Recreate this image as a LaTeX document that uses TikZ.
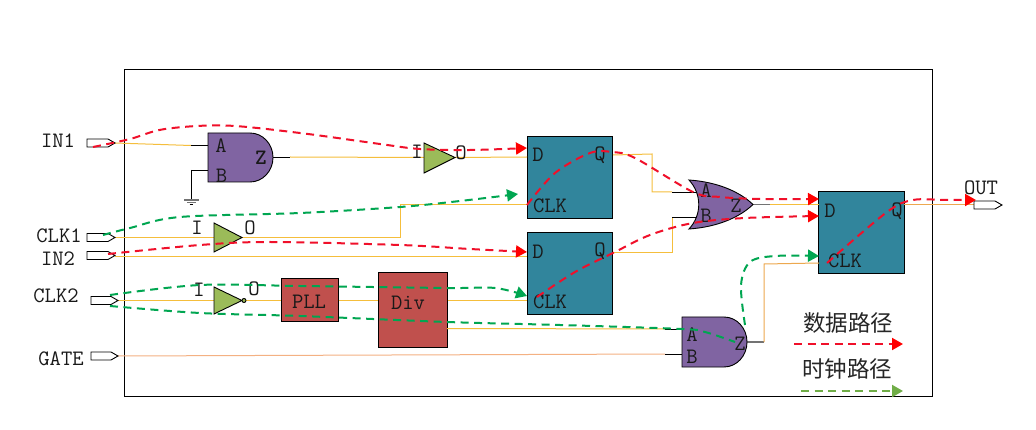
\documentclass[tikz,border=0pt]{standalone}
\usepackage{fontspec}
\usetikzlibrary{arrows.meta}
\newfontfamily\cjkfont{Noto Sans CJK SC}
\newcommand{\labfont}{\ttfamily\addfontfeature{FakeStretch=0.9}}
\definecolor{gatep}{HTML}{8064A2}
\definecolor{ffteal}{HTML}{31859C}
\definecolor{blockr}{HTML}{C0504D}
\definecolor{bufg}{HTML}{9BBB59}
\definecolor{wirey}{HTML}{F5BE3C}
\definecolor{wireo}{HTML}{F4B183}
\definecolor{wirem}{HTML}{EDA84F}
\definecolor{pathr}{HTML}{F0102A}
\definecolor{pathg}{HTML}{00A651}
\definecolor{legg}{HTML}{70AD47}
\tikzset{
  x=1pt,y=-1pt,
  lbl/.style={font=\fontsize{22}{23}\selectfont\labfont,inner sep=0pt,text=black!90},
  ffbox/.style={draw=black,line width=1pt,fill=ffteal,inner sep=0pt,minimum width=85.5pt,minimum height=82pt},
  redblock/.style={draw=black,line width=1pt,fill=blockr,inner sep=0pt},
  gateshape/.style={draw=black,line width=.9pt,fill=gatep},
  bufshape/.style={draw=black,line width=.9pt,fill=bufg},
  pinshape/.style={draw=black,line width=.9pt,fill=white},
  stub/.style={draw=black,line width=.8pt},
  gstub/.style={draw=black!55,line width=1.1pt},
  wirey/.style={draw=wirey,line width=1pt},
  wireo/.style={draw=wireo,line width=1pt},
  wirem/.style={draw=wirem,line width=1pt},
  redpath/.style={draw=pathr,line width=2pt,dash pattern=on 8pt off 5.5pt},
  greenpath/.style={draw=pathg,line width=2pt,dash pattern=on 8pt off 5.5pt},
  redtip/.style={-{Triangle[length=11pt,width=12pt,fill=red,color=red]}},
  greentip/.style={-{Triangle[length=11pt,width=12pt,fill=pathg,color=pathg]}},
  legtip/.style={-{Triangle[length=11pt,width=12pt,fill=legg,color=legg]}},
  smth/.style={smooth,tension=.55},
}
\newcommand{\pinpath}[3]{% x,y centre,length
  \draw[pinshape] (#1,#2-4) -- (#1+#3-7,#2-4) -- (#1+#3,#2) -- (#1+#3-7,#2+4) -- (#1,#2+4) -- cycle;}
\begin{document}
\begin{tikzpicture}
\useasboundingbox (0,0) rectangle (1036,430);
\fill[white] (0,0) rectangle (1036,430);
\draw[black,line width=.9pt] (124,69.5) rectangle (932,396);

% named connection points
\coordinate (in1) at (115,143);
\coordinate (clk1) at (115,237.5);
\coordinate (in2) at (115,257);
\coordinate (clk2) at (118,300.5);
\coordinate (gate) at (118,356);
\coordinate (outp) at (974,204.5);
\coordinate (u1A) at (191,145.5);
\coordinate (u1Ag) at (208,145.5);
\coordinate (u1B) at (191,170);
\coordinate (u1Bg) at (208,170);
\coordinate (u1Zg) at (273,157);
\coordinate (u1Z) at (290,157);
\coordinate (b1i) at (424,157.5);
\coordinate (b1o) at (455,157.5);
\coordinate (b2i) at (214,237.5);
\coordinate (b2o) at (242,237.5);
\coordinate (b3i) at (214,300.5);
\coordinate (b3o) at (246,300.5);
\coordinate (f1D) at (527,157);
\coordinate (f1C) at (527,205);
\coordinate (f1Q) at (613,155);
\coordinate (f2D) at (527,257);
\coordinate (f2C) at (527,300.5);
\coordinate (f2Q) at (613,253);
\coordinate (f3D) at (819,204.5);
\coordinate (f3C) at (819,263);
\coordinate (f3Q) at (904,204.5);
\coordinate (orA) at (672,192);
\coordinate (orB) at (672,217);
\coordinate (orAg) at (697,192);
\coordinate (orBg) at (697,217);
\coordinate (orZg) at (753,204.5);
\coordinate (orZ) at (770,204.5);
\coordinate (u2A) at (665,329);
\coordinate (u2B) at (665,354);
\coordinate (u2Ag) at (682,329);
\coordinate (u2Bg) at (682,354);
\coordinate (u2Zg) at (747,342);
\coordinate (u2Z) at (764,342);
\coordinate (dv2) at (447,328.5);

% function blocks
\node[redblock,minimum width=57pt,minimum height=43pt] (pll) at (309.5,300.5) {};
\node[redblock,minimum width=69pt,minimum height=74pt] (dv) at (412.5,310) {};
\node[ffbox] (ff1) at (570,177.5) {};
\node[ffbox] (ff2) at (570,273.5) {};
\node[ffbox] (ff3) at (861.5,232.5) {};

% wires
\draw[wirey] (in1) -- (u1A);
\draw[stub] (u1A) -- (u1Ag);
\draw[stub] (u1B) -- (u1Bg);
\draw[stub] (u1Zg) -- (u1Z);
\draw[wirey] (u1Z) -- (b1i);
\draw[wirey] (b1o) -- (f1D);
\draw[wirey] (clk1) -- (b2i);
\draw[wirey] (b2o) -- (400,237.5) -- (400,205) -- (f1C);
\draw[wirey] (in2) -- (f2D);
\draw[wirey] (clk2) -- (b3i);
\draw[wirey] (b3o) -- (pll.west);
\draw[wirey] (pll.east) -- (dv.west |- pll.east);
\draw[wirey] (dv.east |- f2C) -- (f2C);
\draw[wirey] (dv2) -- (u2A);
\draw[stub] (u2A) -- (u2Ag);
\draw[wireo] (gate) -- (u2B);
\draw[stub] (u2B) -- (u2Bg);
\draw[gstub] (u2Zg) -- (u2Z);
\draw[wirem] (u2Z) -- (764,264) -- (f3C);
\draw[wirey] (f1Q) -- (652,154) -- (652,192) -- (orA);
\draw[wirey] (f2Q) -- (672,253) -- (orB);
\draw[stub] (orA) -- (orAg);
\draw[stub] (orB) -- (orBg);
\draw[gstub] (orZg) -- (orZ);
\draw[wirey] (orZ) -- (f3D);
\draw[wirem] (f3Q) -- (outp);

% ground
\draw[stub] (u1B) -- (191,199);
\draw[draw=black!55,line width=1.3pt] (184,200) -- (199,200);
\draw[draw=black!55,line width=1.2pt] (187,202.5) -- (196,202.5);
\draw[draw=black,line width=.9pt] (189.5,204.8) -- (193,204.8);

% pins
\pinpath{87}{143}{28}
\pinpath{87}{237.5}{28}
\pinpath{87}{255.5}{28}
\pinpath{91}{300.5}{27}
\pinpath{91}{356}{27}
\pinpath{974}{205}{28}

% gates
\draw[gateshape] (208,133) -- (250,133) arc[start angle=90,end angle=-90,x radius=23,y radius=-24.5] -- (208,182) -- cycle;
\draw[gateshape] (682,317) -- (724,317) arc[start angle=90,end angle=-90,x radius=23,y radius=-25] -- (682,367) -- cycle;
\draw[gateshape] (689,180) .. controls (718,182) and (740,192) .. (753,204.5)
  .. controls (740,217) and (718,227) .. (689,229)
  .. controls (702,215) and (702,194) .. (689,180) -- cycle;

% buffers
\draw[bufshape] (424,143) -- (b1o) -- (424,173) -- cycle;
\draw[bufshape] (214,223) -- (b2o) -- (214,252) -- cycle;
\draw[bufshape] (214,287) -- (242,300.5) -- (214,314) -- cycle;
\draw[draw=black,line width=.9pt,fill=bufg] (244,300.5) circle[radius=2];

% labels
\node[lbl] (tin1) at (58,141) {IN1};
\node[lbl] (tclk1) at (59,236) {CLK1};
\node[lbl] (tin2) at (58,259) {IN2};
\node[lbl] (tclk2) at (56,296) {CLK2};
\node[lbl] (tgate) at (61,359) {GATE};
\node[lbl] (tout) at (981,188) {OUT};
\node[lbl] (u1a) at (221,146) {A};
\node[lbl] (u1b) at (221.5,176) {B};
\node[lbl,font=\fontsize{22}{23}\selectfont\ttfamily\bfseries] (u1z) at (261,158) {Z};
\node[lbl] (bi1) at (417,152) {I};
\node[lbl] (bo1) at (461,153) {O};
\node[lbl] (bi2) at (197,228) {I};
\node[lbl] (bo2) at (250,228) {O};
\node[lbl] (bi3) at (199,290) {I};
\node[lbl] (bo3) at (254,289) {O};
\node[lbl] (tpll) at (309,302) {PLL};
\node[lbl] (tdiv) at (408,303) {Div};
\node[lbl] (t1d) at (538,155) {D};
\node[lbl] (t1q) at (600,155) {Q};
\node[lbl] (t1c) at (550,206) {CLK};
\node[lbl] (t2d) at (538,252) {D};
\node[lbl] (t2q) at (600,251) {Q};
\node[lbl] (t2c) at (550,302) {CLK};
\node[lbl] (t3d) at (830,211) {D};
\node[lbl] (t3q) at (897,211) {Q};
\node[lbl] (t3c) at (845,261) {CLK};
\node[lbl] (toa) at (706,191) {A};
\node[lbl] (tob) at (706,216) {B};
\node[lbl] (toz) at (736,206) {Z};
\node[lbl] (t2a) at (692,335) {A};
\node[lbl] (t2b) at (692,357) {B};
\node[lbl] (t2z) at (740,344) {Z};

% red data paths
\draw[redpath,redtip] plot[smth] coordinates {(93,147) (130,139) (165,129) (225,125.5) (300,133) (380,144) (420,149) (470,150) (527,148)};
\draw[redpath,redtip] plot[smth] coordinates {(108,254) (200,245) (270,242) (400,245) (470,249) (527,252)};
\draw[redpath,redtip] plot[smth] coordinates {(f1C) (555,173) (590,153) (612,152) (635,158) (693,192) (720,197) (760,199) (819,199)};
\draw[redpath,redtip] plot[smth] coordinates {(537,297) (575,272) (f2Q) (650,235) (693,223) (745,218) (819,216)};
\draw[redpath,redtip] plot[smth] coordinates {(827,263) (887,212) (913,200) (945,200) (976,200)};

% green clock paths
\draw[greenpath,greentip] plot[smth] coordinates {(103,235) (130,228) (180,217) (300,213) (400,207) (460,201) (518,194)};
\draw[greenpath,greentip] plot[smth] coordinates {(110,295) (200,285) (300,286) (447,288) (495,288) (527,296)};
\draw[greenpath] plot[smth] coordinates {(110,306) (200,313) (300,316) (447,322) (560,325) (682,329) (705,332) (735,342)};
\draw[greenpath,greentip] plot[smth] coordinates {(745,325) (741,285) (750,262) (775,256) (819,256)};

% legend
\node[font=\fontsize{22.5}{24}\selectfont\cjkfont,inner sep=0pt,text=black!85] (leg1) at (848,323) {数据路径};
\node[font=\fontsize{22.5}{24}\selectfont\cjkfont,inner sep=0pt,text=black!85] (leg2) at (847,369) {时钟路径};
\coordinate (la) at (794,344);
\coordinate (lb) at (903,344);
\coordinate (lc) at (801,391);
\coordinate (ld) at (903,391);
\draw[redpath,redtip] (la) -- (lb);
\draw[draw=legg,line width=2pt,dash pattern=on 8pt off 5.5pt,legtip] (lc) -- (ld);
\end{tikzpicture}
\end{document}
